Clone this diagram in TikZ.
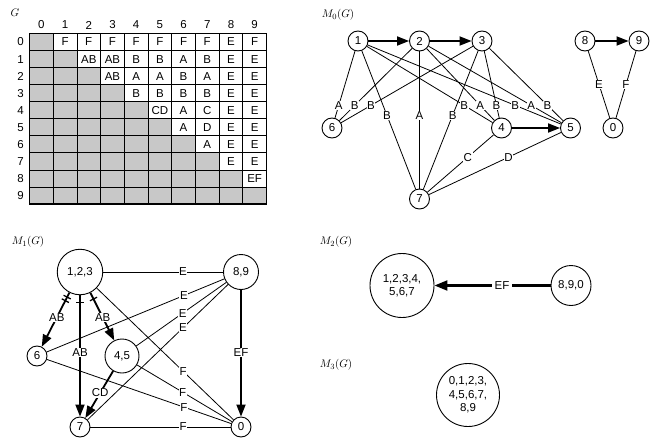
\documentclass[tikz,border=0pt]{standalone}
\usepackage{fontspec}
\setsansfont{Liberation Sans}
\usetikzlibrary{calc,arrows.meta,decorations.markings}
\definecolor{cellgray}{RGB}{200,200,200}
\begin{document}
\begin{tikzpicture}[x=1pt,y=-1pt,
  every node/.style={font=\sffamily\fontsize{11.5}{13}\selectfont},
  vtx/.style={circle, draw, line width=0.9pt, fill=white, minimum size=20pt, inner sep=0pt},
  lab/.style={fill=white, inner sep=0.6pt},
  thickarr/.style={line width=1.8pt, -{Triangle[length=12pt,width=9pt]}},
  ln/.style={line width=0.8pt},
  ttl/.style={font=\fontsize{11}{13}\selectfont},
  tickat/.style={postaction={decorate, decoration={markings,
     mark=at position #1 with {\draw[-, line width=1.3pt] (0,-4pt) -- (0,4pt);}}}}
]
\useasboundingbox (0,0) rectangle (651,439);

% ---------------- table G ----------------
\node[ttl] (tG) at (15,13) {$G$};
\def\xo{29.5}\def\yo{33.5}\def\cw{23.7}\def\ch{17.05}
\foreach \i in {0,...,9}{
  \foreach \j in {0,...,\i}{
    \fill[cellgray] ({\xo+\j*\cw},{\yo+\i*\ch}) rectangle ++(\cw,\ch);
  }
}
\foreach \k in {0,...,10}{
  \draw[line width=0.8pt] ({\xo+\k*\cw},\yo) -- ({\xo+\k*\cw},{\yo+10*\ch});
  \draw[line width=0.8pt] (\xo,{\yo+\k*\ch}) -- ({\xo+10*\cw},{\yo+\k*\ch});
}
\draw[line width=1.2pt] (\xo,\yo) rectangle ({\xo+10*\cw},{\yo+10*\ch});
\foreach \j in {0,...,9}{
  \node (h\j) at ({\xo+(\j+0.5)*\cw},25) {\j};
  \node (r\j) at (20.5,{\yo+(\j+0.5)*\ch}) {\j};
}
\foreach \i/\j/\t in {0/1/F,0/2/F,0/3/F,0/4/F,0/5/F,0/6/F,0/7/F,0/8/E,0/9/F,
  1/2/AB,1/3/AB,1/4/B,1/5/B,1/6/A,1/7/B,1/8/E,1/9/E,
  2/3/AB,2/4/A,2/5/A,2/6/B,2/7/A,2/8/E,2/9/E,
  3/4/B,3/5/B,3/6/B,3/7/B,3/8/E,3/9/E,
  4/5/CD,4/6/A,4/7/C,4/8/E,4/9/E,
  5/6/A,5/7/D,5/8/E,5/9/E,
  6/7/A,6/8/E,6/9/E,
  7/8/E,7/9/E,
  8/9/EF}{
  \node[inner sep=0pt] (c\i-\j) at ({\xo+(\j+0.5)*\cw},{\yo+(\i+0.5)*\ch}) {\t};
}

% ---------------- M0(G) ----------------
\node[ttl] (tM0) at (338,15) {$M_0(G)$};
\node[vtx] (m1) at (358,41) {1};
\node[vtx] (m2) at (419.5,41) {2};
\node[vtx] (m3) at (482,41) {3};
\node[vtx] (m8) at (585,41) {8};
\node[vtx] (m9) at (639,41) {9};
\node[vtx] (m6) at (332,128) {6};
\node[vtx] (m4) at (501.5,128) {4};
\node[vtx] (m5) at (570.5,128) {5};
\node[vtx] (m0) at (613,128) {0};
\node[vtx] (m7) at (419.5,199) {7};
\foreach \a/\b in {1/6,2/6,3/6,1/4,2/4,3/4,1/5,2/5,3/5,1/7,2/7,3/7,4/7,5/7,8/0,9/0}{
  \draw[ln] (m\a) -- (m\b);
}
\draw[thickarr] (m1) -- (m2);
\draw[thickarr] (m2) -- (m3);
\draw[thickarr] (m4) -- (m5);
\draw[thickarr] (m8) -- (m9);
\foreach \a/\b/\p/\t in {1/6/0.74/A,2/6/0.74/B,3/6/0.74/B,
  1/4/0.74/B,2/4/0.74/A,3/4/0.74/B,1/5/0.74/B,2/5/0.74/A,3/5/0.74/B,
  1/7/0.47/B,2/7/0.47/A,3/7/0.47/B,4/7/0.41/C,5/7/0.41/D,8/0/0.5/E,9/0/0.5/F}{
  \node[lab] (l\a-\b) at ($(m\a)!\p!(m\b)$) {\t};
}

% ---------------- M1(G) ----------------
\node[ttl] (tM1) at (28,242) {$M_1(G)$};
\node[vtx, minimum size=45.5pt] (n123) at (80,272) {1,2,3};
\node[vtx, minimum size=35pt] (n89) at (241,272) {8,9};
\node[vtx] (n6) at (37,356) {6};
\node[vtx, minimum size=34pt] (n45) at (122,356) {4,5};
\node[vtx] (n7) at (80,427) {7};
\node[vtx] (n0) at (241,427) {0};
\foreach \a/\b in {89/123,89/6,89/45,89/7,0/123,0/6,0/45,0/7}{
  \draw[ln] (n\a) -- (n\b);
}
\draw[thickarr, tickat=5pt, tickat=9pt] (n123) -- (n6);
\draw[thickarr, tickat=7pt] (n123) -- (n7);
\draw[thickarr, tickat=7pt] (n123) -- (n45);
\draw[thickarr] (n45) -- (n7);
\draw[thickarr] (n89) -- (n0);
\foreach \a/\b/\p/\t in {89/123/0.36/E,89/6/0.28/E,89/45/0.49/E,89/7/0.36/E,
  0/123/0.36/F,0/45/0.49/F,0/6/0.28/F,0/7/0.36/F,
  123/6/0.54/AB,123/7/0.52/AB,123/45/0.54/AB,45/7/0.52/CD,89/0/0.52/EF}{
  \node[lab] (k\a-\b) at ($(n\a)!\p!(n\b)$) {\t};
}

% ---------------- M2(G) ----------------
\node[ttl] (tM2) at (336,242) {$M_2(G)$};
\node[vtx, minimum size=64pt, align=center, font=\sffamily\fontsize{11.5}{12.5}\selectfont] (p1) at (402,285.5) {1,2,3,4,\\5,6,7};
\node[vtx, minimum size=40pt] (p2) at (571,285.5) {8,9,0};
\draw[thickarr, line width=2.2pt, -{Triangle[length=13pt,width=10pt]}] (p2) -- (p1);
\node[lab, inner sep=3pt] (pEF) at (502,285.5) {EF};

% ---------------- M3(G) ----------------
\node[ttl] (tM3) at (336,365) {$M_3(G)$};
\node[vtx, minimum size=63pt, align=center, font=\sffamily\fontsize{11.5}{13.5}\selectfont] (q) at (468,395) {0,1,2,3,\\4,5,6,7,\\8,9};
\end{tikzpicture}
\end{document}
